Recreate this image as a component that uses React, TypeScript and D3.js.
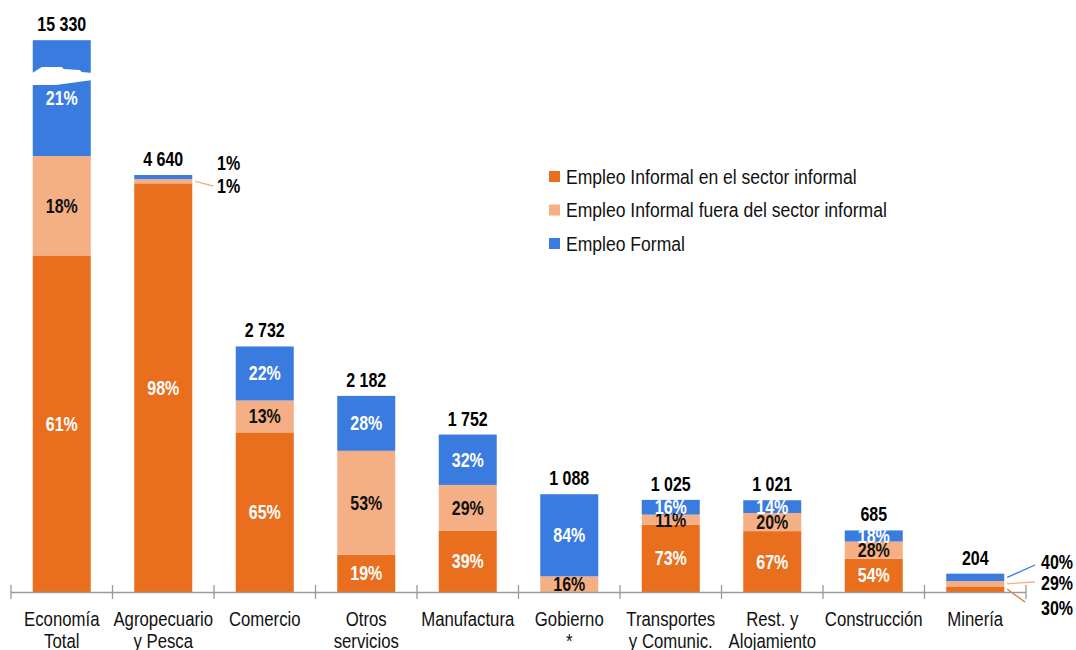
import React from "react";
import * as d3 from "d3";

const categories: string[][] = [
  ["Economía", "Total"],
  ["Agropecuario", "y Pesca"],
  ["Comercio"],
  ["Otros", "servicios"],
  ["Manufactura"],
  ["Gobierno", "*"],
  ["Transportes", "y Comunic."],
  ["Rest. y", "Alojamiento"],
  ["Construcción"],
  ["Minería"],
];
const totals = [15330, 4640, 2732, 2182, 1752, 1088, 1025, 1021, 685, 204];
const informalSector = [61, 98, 65, 19, 39, 0, 73, 67, 54, 30];
const informalOutside = [18, 1, 13, 53, 29, 16, 11, 20, 28, 29];
const formal = [21, 1, 22, 28, 32, 84, 16, 14, 18, 40];
const seriesNames = [
  "Empleo Informal en el sector informal",
  "Empleo Informal fuera del sector informal",
  "Empleo Formal",
];
const colors = ["#E96E1E", "#F4B084", "#3A7BE0"];
const labelColors = ["#ffffff", "#111111", "#ffffff"];
// the first bar is cut by an axis break: it is drawn at this value
const brokenDisplayValue = 6140;

const W = 1076;
const H = 650;
const FONT = "'Liberation Sans', Arial, sans-serif";

function T(props: {
  x: number;
  y: number;
  anchor?: string;
  size?: number;
  bold?: boolean;
  fill?: string;
  sx?: number;
  children: React.ReactNode;
}) {
  const { x, y, anchor = "middle", size = 19.5, bold = false, fill = "#111", sx = 0.86, children } = props;
  return (
    <text
      transform={`translate(${x},${y}) scale(${sx},1)`}
      textAnchor={anchor}
      fontSize={size}
      fontWeight={bold ? "bold" : "normal"}
      fill={fill}
    >
      {children}
    </text>
  );
}

export default function App() {
  const keys = categories.map((c) => c.join(" "));
  const x = d3.scaleBand<string>().domain(keys).range([11, 1026]).padding(0);
  const y = d3.scaleLinear().domain([0, 4640]).range([592, 175]);
  const barW = 58;
  const series = [informalSector, informalOutside, formal];

  const bars = keys.map((k, i) => {
    const shown = Math.min(totals[i], brokenDisplayValue);
    const pcts = series.map((s) => s[i]);
    const sum = d3.sum(pcts);
    let acc = 0;
    const segs = pcts.map((p, j) => {
      const v0 = (acc / sum) * shown;
      acc += p;
      const v1 = (acc / sum) * shown;
      return { j, p, y0: y(v0), y1: y(v1) };
    });
    const cx = (x(k) as number) + x.bandwidth() / 2;
    return { k, i, cx, left: cx - barW / 2, top: y(shown), segs };
  });

  const fmt = (v: number) => d3.format(",")(v).replace(/,/g, " ");

  // labels placed beside the bar: category, series, label centre y, leader line end
  const outside: { c: number; s: number; ly: number; line: boolean; lx: number; ex: number; ey: number }[] = [
    { c: 1, s: 2, ly: 163, line: false, lx: 217, ex: 0, ey: 0 },
    { c: 1, s: 1, ly: 186, line: true, lx: 217, ex: 213, ey: 186 },
    { c: 9, s: 2, ly: 562, line: true, lx: 1041, ex: 1035, ey: 565 },
    { c: 9, s: 1, ly: 583, line: true, lx: 1041, ex: 1035, ey: 582 },
    { c: 9, s: 0, ly: 608, line: true, lx: 1041, ex: 1025, ey: 602 },
  ];
  const isOutside = (c: number, s: number) => outside.some((o) => o.c === c && o.s === s);

  const b0 = bars[0];
  const breakPath =
    d3.line()([
      [b0.left - 2, 74],
      [b0.left + 9, 67],
      [b0.left + 29, 67],
      [b0.left + 31, 69],
      [b0.left + 47, 70],
      [b0.left + 49, 72],
      [b0.left + barW + 2, 73],
      [b0.left + barW + 2, 80],
      [b0.left + 23, 85],
      [b0.left - 2, 85],
    ]) + "Z";

  const ticks = keys.map((k) => x(k) as number).concat([x.range()[1]]);
  const capHalf = 7;

  return (
    <svg width={W} height={H} style={{ display: "block", position: "absolute", left: 0, top: 0 }} fontFamily={FONT}>
      <rect width={W} height={H} fill="#ffffff" />
      {bars.map((b) => (
        <g key={b.k}>
          {b.segs.map((s) =>
            s.p > 0 ? (
              <rect key={s.j} x={b.left} y={s.y1} width={barW} height={s.y0 - s.y1} fill={colors[s.j]} />
            ) : null
          )}
        </g>
      ))}
      <path d={breakPath} fill="#ffffff" />
      {bars.map((b) => (
        <g key={"l" + b.k}>
          {b.segs.map((s) =>
            s.p > 0 && !isOutside(b.i, s.j) ? (
              <T key={"t" + s.j} x={b.cx} y={(s.y0 + s.y1) / 2 + capHalf} bold fill={labelColors[s.j]} sx={0.82}>
                {s.p}%
              </T>
            ) : null
          )}
          <T x={b.cx} y={b.top - 9} bold fill="#000" sx={0.82}>
            {fmt(totals[b.i])}
          </T>
        </g>
      ))}
      {outside.map((o, n) => {
        const b = bars[o.c];
        const s = b.segs[o.s];
        const sy = (s.y0 + s.y1) / 2;
        return (
          <g key={"o" + n}>
            {o.line ? (
              <line x1={b.left + barW + 3} y1={sy} x2={o.ex} y2={o.ey} stroke={colors[o.s]} strokeWidth={1.3} />
            ) : null}
            <T x={o.lx} y={o.ly + capHalf} anchor="start" bold fill="#000" sx={0.82}>
              {s.p}%
            </T>
          </g>
        );
      })}
      <line x1={ticks[0]} x2={ticks[ticks.length - 1]} y1={592.5} y2={592.5} stroke="#9a9a9a" strokeWidth={1.5} />
      {ticks.map((t, n) => (
        <line key={"tk" + n} x1={t} x2={t} y1={585} y2={599} stroke="#9a9a9a" strokeWidth={1.3} />
      ))}
      {categories.map((c, i) =>
        c.map((line, n) => (
          <T key={"c" + i + "_" + n} x={bars[i].cx} y={626 + n * 21.5} sx={0.86}>
            {line}
          </T>
        ))
      )}
      {seriesNames.map((name, n) => (
        <g key={"lg" + n} transform={`translate(549, ${176.5 + n * 33.5})`}>
          <rect x={0} y={-5.5} width={11} height={11} fill={colors[n]} />
          <T x={17} y={capHalf} anchor="start" sx={0.9}>
            {name}
          </T>
        </g>
      ))}
    </svg>
  );
}
